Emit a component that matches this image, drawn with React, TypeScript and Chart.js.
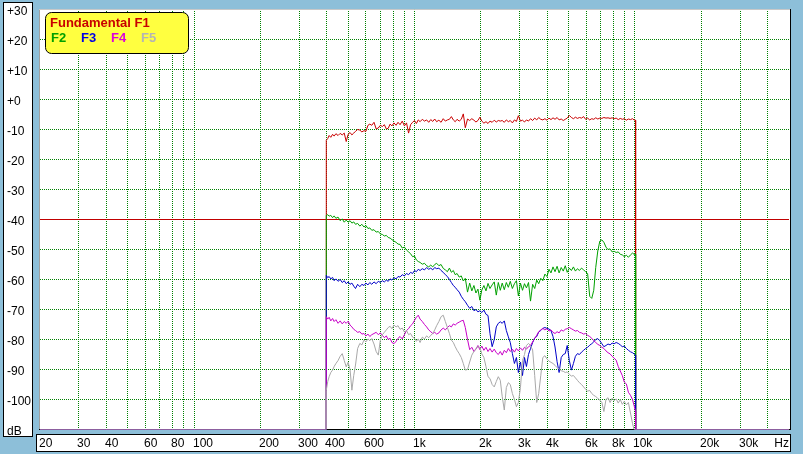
import React, { useEffect, useRef } from 'react';
import { Chart, registerables } from 'chart.js';

Chart.register(...registerables);

// ---------- data ----------
const X_MIN = 20;
const X_MAX = 50000;
const Y_MIN = -110;
const Y_MAX = 30;
const FLOOR_DB = -110;
const REF_DB = -40;

// frequency grid shared by all five series (Hz)
const FREQ = [
  398, 404, 410, 417, 425, 432, 440, 450, 460, 470,
  480, 490, 500, 510, 520, 530, 540, 552, 565, 577,
  590, 602, 615, 627, 640, 655, 670, 685, 700, 715,
  730, 745, 760, 775, 790, 807, 825, 842, 860, 880,
  900, 920, 940, 960, 980, 1000, 1020, 1040, 1060, 1085,
  1110, 1135, 1160, 1185, 1210, 1235, 1260, 1290, 1320, 1350,
  1380, 1410, 1440, 1470, 1500, 1530, 1560, 1595, 1630, 1665,
  1700, 1740, 1780, 1820, 1860, 1900, 1940, 1980, 2020, 2065,
  2110, 2155, 2200, 2250, 2300, 2350, 2400, 2450, 2500, 2555,
  2610, 2665, 2720, 2780, 2840, 2900, 2960, 3025, 3090, 3155,
  3220, 3290, 3360, 3435, 3510, 3585, 3660, 3740, 3820, 3905,
  3990, 4075, 4160, 4250, 4340, 4435, 4530, 4630, 4730, 4830,
  4930, 5040, 5150, 5260, 5370, 5485, 5600, 5725, 5850, 5975,
  6100, 6235, 6370, 6505, 6640, 6785, 6930, 7080, 7230, 7390,
  7550, 7715, 7880, 8050, 8220, 8400, 8580, 8765, 8950, 9145,
  9340, 9545, 9750, 9910, 10070,
];

const F1 = [
  -13.6, -13.0, -12.0, -12.6, -11.6, -12.2, -11.4, -12.0, -11.3, -11.8,
  -11.2, -14.0, -11.6, -11.0, -11.8, -11.2, -10.6, -10.0, -10.2, -10.8,
  -10.4, -10.6, -8.6, -8.2, -8.6, -7.6, -9.8, -9.5, -8.6, -9.0,
  -8.4, -9.8, -9.6, -8.2, -8.8, -7.8, -8.6, -7.6, -8.4, -7.2,
  -8.8, -7.8, -11.2, -8.4, -7.6, -7.0, -8.0, -6.8, -7.4, -6.6,
  -7.2, -6.8, -7.6, -6.7, -7.3, -6.5, -7.4, -6.9, -7.6, -6.4,
  -7.2, -6.8, -6.6, -5.7, -6.8, -7.4, -6.6, -7.2, -6.6, -4.8,
  -9.4, -6.5, -7.0, -6.4, -6.9, -7.5, -7.0, -5.9, -7.2, -7.9,
  -7.4, -8.0, -7.2, -7.6, -6.9, -7.5, -7.0, -7.2, -7.0, -7.6,
  -6.8, -7.4, -7.0, -7.8, -6.8, -7.3, -5.4, -7.2, -6.9, -7.5,
  -6.8, -7.2, -6.4, -7.0, -6.2, -6.8, -6.0, -6.6, -6.8, -6.4,
  -6.9, -6.2, -6.7, -6.1, -6.6, -6.0, -6.8, -6.5, -7.0, -6.6,
  -6.2, -5.3, -6.0, -6.4, -5.9, -6.3, -6.0, -6.2, -5.7, -6.6,
  -6.2, -6.8, -6.4, -6.6, -6.1, -6.5, -6.2, -6.3, -6.0, -6.2,
  -6.1, -6.3, -6.1, -6.4, -6.2, -6.7, -6.3, -6.6, -6.4, -6.9,
  -6.5, -6.7, -6.4, -6.8, -6.9,
];

const F2 = [
  -38.6, -38.4, -38.9, -38.6, -39.4, -38.8, -39.6, -39.2, -40.4, -39.8,
  -40.9, -40.2, -40.9, -40.4, -41.2, -40.8, -41.6, -41.3, -42.2, -41.6,
  -42.5, -42.0, -43.0, -42.8, -43.6, -43.4, -44.2, -44.0, -44.8, -45.0,
  -45.5, -45.3, -46.0, -46.2, -46.7, -47.2, -47.6, -48.2, -48.3, -49.5,
  -49.2, -50.2, -50.8, -51.4, -52.4, -52.2, -53.5, -54.0, -54.3, -54.9,
  -54.6, -55.4, -55.8, -55.2, -55.8, -55.0, -54.6, -55.4, -55.0, -56.3,
  -56.8, -57.4, -56.2, -57.6, -57.0, -58.4, -58.0, -59.2, -58.8, -60.5,
  -59.6, -64.2, -61.2, -63.8, -62.0, -64.5, -63.2, -66.9, -63.5, -62.0,
  -63.8, -61.3, -63.0, -61.8, -60.8, -65.2, -61.0, -63.6, -61.2, -63.4,
  -61.0, -62.6, -60.6, -63.0, -61.4, -60.4, -65.5, -61.2, -63.6, -61.4,
  -62.8, -61.0, -67.2, -61.6, -63.0, -60.2, -61.4, -59.6, -60.4, -58.2,
  -59.0, -56.6, -57.8, -55.8, -57.4, -55.6, -57.8, -56.0, -57.2, -55.4,
  -57.6, -56.2, -57.0, -55.8, -57.2, -56.4, -57.0, -56.2, -56.8, -57.4,
  -58.0, -65.6, -66.3, -63.6, -56.0, -50.5, -47.2, -46.8, -47.6, -49.2,
  -50.0, -49.8, -50.8, -50.6, -51.0, -50.8, -51.6, -51.8, -52.4, -51.9,
  -52.6, -51.8, -51.2, -51.6, -51.5,
];

const F3 = [
  -58.6, -59.4, -59.0, -59.8, -59.3, -60.4, -59.8, -60.6, -60.0, -61.0,
  -60.4, -61.4, -60.8, -61.6, -61.2, -62.2, -63.0, -61.6, -62.4, -61.6,
  -62.0, -61.2, -61.8, -61.0, -61.6, -60.8, -61.4, -60.6, -61.0, -60.4,
  -60.8, -60.2, -60.6, -59.8, -60.2, -59.4, -59.8, -59.0, -59.2, -58.4,
  -58.8, -58.0, -58.4, -57.6, -58.0, -57.0, -57.4, -56.6, -57.0, -56.4,
  -56.8, -56.0, -56.6, -56.2, -56.8, -56.0, -56.4, -56.2, -57.0, -57.6,
  -58.4, -59.0, -60.0, -61.0, -62.0, -62.6, -63.4, -64.2, -65.6, -66.6,
  -67.4, -68.6, -69.6, -69.0, -70.4, -70.0, -70.8, -70.4, -71.0, -70.2,
  -71.6, -72.0, -78.0, -82.4, -80.0, -75.8, -74.6, -74.1, -74.6, -73.8,
  -77.0, -79.1, -81.0, -84.7, -88.0, -86.0, -91.0, -87.5, -92.0, -86.0,
  -89.0, -85.0, -83.0, -81.0, -79.5, -79.0, -77.5, -77.0, -76.3, -76.0,
  -76.3, -76.5, -77.0, -79.0, -82.5, -87.4, -91.0, -86.0, -85.0, -84.7,
  -82.0, -87.0, -90.2, -88.0, -85.6, -84.7, -85.0, -84.2, -83.6, -83.0,
  -82.6, -81.9, -81.4, -80.8, -80.0, -79.7, -80.4, -81.4, -82.4, -82.0,
  -81.5, -81.8, -81.2, -81.4, -81.0, -81.3, -81.8, -82.4, -82.2, -83.0,
  -83.6, -84.1, -84.4, -84.8, -85.2,
];

const F4 = [
  -72.4, -73.2, -72.6, -73.8, -73.0, -74.0, -73.4, -74.6, -73.8, -74.8,
  -74.0, -74.6, -73.9, -75.2, -75.8, -76.6, -77.0, -77.6, -77.4, -78.2,
  -78.0, -78.8, -78.2, -79.0, -78.4, -78.0, -77.6, -78.4, -77.8, -78.6,
  -79.4, -78.8, -80.0, -79.6, -81.0, -81.4, -80.6, -79.6, -79.0, -79.8,
  -78.4, -77.0, -76.4, -75.4, -74.8, -73.6, -72.6, -71.9, -73.2, -74.0,
  -75.0, -75.8, -76.8, -77.4, -78.0, -77.6, -78.2, -77.8, -76.8, -76.2,
  -76.8, -76.0, -75.4, -75.8, -74.8, -75.2, -74.6, -74.2, -73.8, -73.6,
  -76.0, -80.0, -83.4, -82.6, -84.0, -83.2, -82.0, -83.4, -82.2, -83.6,
  -82.6, -84.0, -83.0, -84.2, -83.2, -84.4, -85.0, -84.0, -85.2, -83.6,
  -84.4, -83.0, -84.0, -83.2, -84.2, -83.0, -83.8, -82.8, -83.6, -82.6,
  -83.2, -82.4, -82.0, -80.8, -79.6, -78.6, -77.4, -76.8, -76.3, -76.8,
  -76.4, -77.2, -76.8, -77.6, -78.0, -77.4, -77.8, -76.8, -77.2, -76.6,
  -76.4, -76.0, -76.4, -76.8, -77.2, -77.0, -77.6, -77.8, -78.2, -78.0,
  -78.6, -79.0, -79.6, -80.4, -81.0, -81.6, -82.0, -82.6, -83.0, -83.8,
  -84.4, -84.8, -85.6, -86.2, -86.9, -89.0, -90.5, -92.0, -94.2, -94.8,
  -97.6, -98.6, -100.0, -102.0, -104.0,
];

const F5 = [
  -96.9, -94.0, -92.4, -91.0, -90.2, -89.0, -88.0, -87.0, -85.6, -84.7,
  -87.0, -89.1, -87.6, -90.0, -96.9, -92.0, -88.5, -83.0, -81.3, -81.8,
  -80.2, -80.8, -79.8, -80.4, -79.7, -81.5, -84.0, -85.2, -80.2, -78.4,
  -77.6, -76.8, -76.0, -75.6, -76.4, -75.2, -75.8, -75.4, -76.6, -76.2,
  -77.5, -77.0, -78.4, -78.0, -79.2, -79.6, -80.6, -79.8, -81.0, -79.2,
  -79.8, -78.8, -79.4, -78.6, -78.0, -76.8, -75.4, -74.0, -72.4, -71.9,
  -74.0, -76.0, -78.0, -80.2, -81.0, -82.4, -83.6, -84.7, -86.0, -88.0,
  -90.2, -90.0, -87.5, -85.2, -84.0, -83.0, -82.4, -82.6, -84.8, -86.0,
  -89.0, -92.4, -93.0, -95.0, -95.8, -94.0, -92.4, -93.6, -99.0, -103.5,
  -96.0, -94.4, -95.0, -98.0, -100.0, -102.4, -101.0, -96.0, -87.0, -85.0,
  -82.0, -81.3, -82.0, -83.5, -92.0, -101.0, -98.0, -92.0, -86.0, -85.4,
  -86.5, -87.2, -87.6, -88.0, -88.6, -89.4, -89.8, -90.4, -90.6, -91.0,
  -90.8, -91.6, -92.2, -92.0, -92.8, -93.6, -94.4, -95.0, -95.8, -96.6,
  -97.2, -97.0, -98.0, -98.6, -99.0, -99.6, -100.2, -101.0, -104.0, -100.0,
  -99.4, -101.0, -99.6, -100.4, -99.8, -101.2, -100.0, -101.6, -100.6, -101.8,
  -101.0, -104.5, -108.0, -110, -110,
];

const X_GRID = [
  30, 40, 50, 60, 70, 80, 90, 100, 200, 300, 400, 500, 600, 700, 800, 900,
  1000, 2000, 3000, 4000, 5000, 6000, 7000, 8000, 9000, 10000, 20000, 30000, 40000,
];
const Y_GRID = [20, 10, 0, -10, -20, -30, -50, -60, -70, -80, -90, -100];

const X_LABEL_VALUES = [20, 30, 40, 60, 80, 100, 200, 300, 400, 600, 1000, 2000, 3000, 4000, 6000, 8000, 10000, 20000, 30000];
const X_LABEL_TEXT = ['20', '30', '40', '60', '80', '100', '200', '300', '400', '600', '1k', '2k', '3k', '4k', '6k', '8k', '10k', '20k', '30k'];
const X_UNIT = 'Hz';
const Y_LABEL_VALUES = [30, 20, 10, 0, -10, -20, -30, -40, -50, -60, -70, -80, -90, -100];
const Y_LABEL_TEXT = ['+30', '+20', '+10', '+0', '-10', '-20', '-30', '-40', '-50', '-60', '-70', '-80', '-90', '-100'];
const Y_UNIT = 'dB';

const SERIES_NAMES = ['F1', 'F2', 'F3', 'F4', 'F5'];
const LEGEND_TITLE = 'Fundamental F1';

// ---------- styles ----------
const BG = '#8dbfd9';
const COLORS = ['#c80000', '#00a000', '#0000c8', '#c800c8', '#a8a8a8'];
const LEGEND_COLORS = ['#c80000', '#00a000', '#0000e6', '#dc00dc', '#b4b4b4'];
const GRID_COLOR = '#008000';
const REF_COLOR = '#c00000';
const LABEL_FONT = '12px "Liberation Sans Narrow", "Arial Narrow", "Liberation Sans", Arial, sans-serif';
const LEGEND_FONT = 'bold 13px "Liberation Sans", Arial, sans-serif';

function buildSeries(freqs: number[], values: number[]) {
  const pts: { x: number; y: number }[] = [
    { x: X_MIN, y: FLOOR_DB },
    { x: freqs[0], y: FLOOR_DB },
  ];
  freqs.forEach((f, i) => pts.push({ x: f, y: values[i] }));
  pts.push({ x: freqs[freqs.length - 1], y: FLOOR_DB });
  pts.push({ x: X_MAX, y: FLOOR_DB });
  return pts;
}

function roundRect(ctx: CanvasRenderingContext2D, x: number, y: number, w: number, h: number, r: number) {
  ctx.beginPath();
  ctx.moveTo(x + r, y);
  ctx.lineTo(x + w - r, y);
  ctx.arcTo(x + w, y, x + w, y + r, r);
  ctx.lineTo(x + w, y + h - r);
  ctx.arcTo(x + w, y + h, x + w - r, y + h, r);
  ctx.lineTo(x + r, y + h);
  ctx.arcTo(x, y + h, x, y + h - r, r);
  ctx.lineTo(x, y + r);
  ctx.arcTo(x, y, x + r, y, r);
  ctx.closePath();
}

const framePlugin = {
  id: 'frame',
  beforeDraw(chart: any) {
    const ctx: CanvasRenderingContext2D = chart.ctx;
    ctx.save();
    ctx.fillStyle = BG;
    ctx.fillRect(0, 0, chart.width, chart.height);
    ctx.fillStyle = '#ffffff';
    ctx.fillRect(3, 2, 30, 435);
    ctx.strokeStyle = '#000000';
    ctx.lineWidth = 1;
    ctx.strokeRect(3.5, 2.5, 29, 434);
    ctx.fillRect(36, 434, 755, 18);
    ctx.strokeRect(36.5, 434.5, 754, 17);
    ctx.fillStyle = '#ffffff';
    ctx.fillRect(39, 9, 752, 421);
    ctx.restore();
  },
  beforeDatasetsDraw(chart: any) {
    const ctx: CanvasRenderingContext2D = chart.ctx;
    ctx.save();
    ctx.lineWidth = 1;
    ctx.strokeStyle = '#a0a0a0';
    ctx.beginPath();
    ctx.moveTo(39.5, 9);
    ctx.lineTo(39.5, 430);
    ctx.stroke();
    ctx.strokeStyle = '#c8c8c8';
    ctx.beginPath();
    ctx.moveTo(39, 9.5);
    ctx.lineTo(790, 9.5);
    ctx.stroke();
    ctx.strokeStyle = '#000000';
    ctx.beginPath();
    ctx.moveTo(790.5, 9);
    ctx.lineTo(790.5, 430);
    ctx.moveTo(39, 429.5);
    ctx.lineTo(791, 429.5);
    ctx.stroke();
    ctx.restore();
  },
  afterDraw(chart: any) {
    const ctx: CanvasRenderingContext2D = chart.ctx;
    const xs = chart.scales.x;
    const ys = chart.scales.y;
    ctx.save();
    ctx.font = LABEL_FONT;
    ctx.fillStyle = '#000000';
    ctx.textBaseline = 'alphabetic';
    ctx.textAlign = 'left';
    Y_LABEL_VALUES.forEach((v, i) => {
      const py = Math.floor(ys.getPixelForValue(v));
      ctx.fillText(Y_LABEL_TEXT[i], 7, py + 6);
    });
    ctx.fillText(Y_UNIT, 7, Math.floor(ys.getPixelForValue(Y_MIN)) + 6);
    X_LABEL_VALUES.forEach((v, i) => {
      const px = Math.floor(xs.getPixelForValue(v)) - 1;
      ctx.fillText(X_LABEL_TEXT[i], Math.max(px, 38), 447);
    });
    ctx.textAlign = 'right';
    ctx.fillText(X_UNIT, 789, 447);

    roundRect(ctx, 45.5, 12.5, 143, 41, 6);
    ctx.fillStyle = '#ffff40';
    ctx.fill();
    ctx.strokeStyle = '#000000';
    ctx.lineWidth = 1;
    ctx.stroke();
    ctx.font = LEGEND_FONT;
    ctx.textAlign = 'left';
    ctx.fillStyle = LEGEND_COLORS[0];
    ctx.fillText(LEGEND_TITLE, 50, 27);
    for (let i = 1; i < SERIES_NAMES.length; i++) {
      ctx.fillStyle = LEGEND_COLORS[i];
      ctx.fillText(SERIES_NAMES[i], 51 + (i - 1) * 30, 42);
    }
    ctx.restore();
  },
};

export default function App() {
  const ref = useRef<HTMLCanvasElement | null>(null);
  useEffect(() => {
    if (!ref.current) return;
    const seriesValues = [F1, F2, F3, F4, F5];
    const datasets: any[] = seriesValues.map((vals, i) => ({
      label: SERIES_NAMES[i],
      data: buildSeries(FREQ, vals),
      borderColor: COLORS[i],
      backgroundColor: COLORS[i],
      borderWidth: 1,
      pointRadius: 0,
      tension: 0,
      fill: false,
      order: 5 - i,
    }));
    datasets.push({
      label: 'ref',
      data: [
        { x: X_MIN, y: REF_DB },
        { x: X_MAX, y: REF_DB },
      ],
      borderColor: REF_COLOR,
      backgroundColor: REF_COLOR,
      borderWidth: 1,
      pointRadius: 0,
      fill: false,
      order: 10,
    });
    const chart = new Chart(ref.current, {
      type: 'line',
      data: { datasets },
      options: {
        animation: false,
        responsive: false,
        devicePixelRatio: 1,
        events: [],
        layout: { padding: { left: 0, right: 14, top: 9.5, bottom: 0 } },
        plugins: { legend: { display: false }, tooltip: { enabled: false } },
        scales: {
          x: {
            type: 'logarithmic',
            min: X_MIN,
            max: X_MAX,
            afterBuildTicks: (s: any) => {
              s.ticks = X_GRID.map((v) => ({ value: v }));
            },
            afterFit: (s: any) => {
              s.height = 24.5;
            },
            ticks: { display: false },
            grid: { color: GRID_COLOR, lineWidth: 1, drawTicks: false },
            border: { display: false, dash: [1, 1], dashOffset: 0.5 },
          },
          y: {
            type: 'linear',
            min: Y_MIN,
            max: Y_MAX,
            afterBuildTicks: (s: any) => {
              s.ticks = Y_GRID.map((v) => ({ value: v }));
            },
            afterFit: (s: any) => {
              s.width = 40;
            },
            ticks: { display: false },
            grid: { color: GRID_COLOR, lineWidth: 1, drawTicks: false },
            border: { display: false, dash: [1, 1], dashOffset: 0 },
          },
        },
      } as any,
      plugins: [framePlugin],
    });
    return () => chart.destroy();
  }, []);
  return (
    <div style={{ position: 'fixed', left: 0, top: 0, width: 803, height: 454, background: BG }}>
      <canvas ref={ref} width={803} height={454} style={{ display: 'block', width: 803, height: 454 }} />
    </div>
  );
}
